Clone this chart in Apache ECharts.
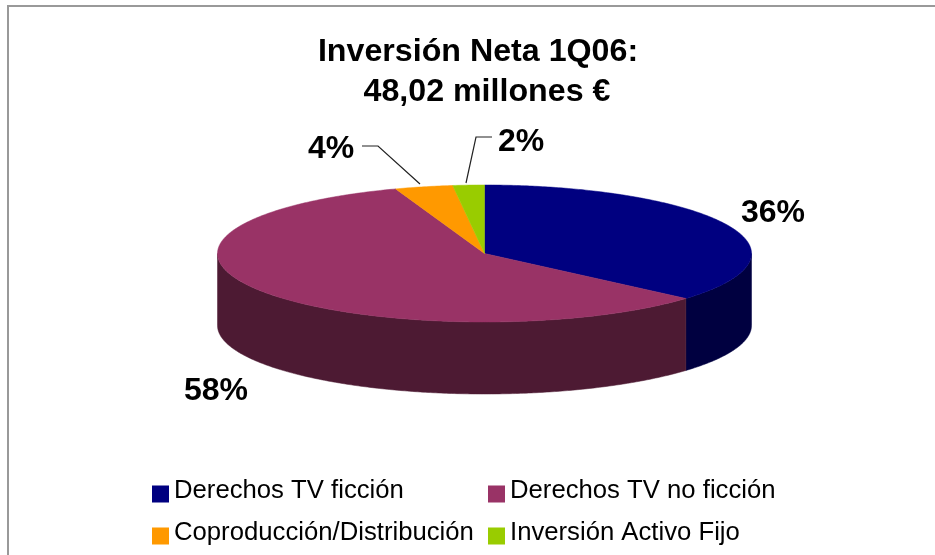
<!DOCTYPE html>
<html>
<head>
<meta charset="utf-8">
<title>Inversión Neta 1Q06</title>
<script src="https://cdn.jsdelivr.net/npm/echarts@6/dist/echarts.min.js"></script>
<style>
html, body { margin: 0; padding: 0; background: #fff; }
#chart { width: 935px; height: 555px; }
</style>
</head>
<body>
<div id="chart"></div>
<script>
var categorias = ['Derechos TV ficción', 'Derechos TV no ficción', 'Coproducción/Distribución', 'Inversión Activo Fijo'];
var valores = [36.4, 58.2, 3.5, 1.9];
var colores = ['#000080', '#993366', '#FF9900', '#99CC00'];
var coloresLado = ['#000040', '#4D1A33', '#804D00', '#4D6600'];

// geometria del pastel
var CX = 484.5, CY = 253.5, RX = 267, RY = 68.5, ALTO = 72;
var ETIQUETAS = [[773, 213], [216, 391], [331, 149], [521, 142]];
var GUIAS = [null, null, [[362, 146], [378, 146], [420, 184]], [[492, 137], [476, 137], [466, 183]]];
// cuadro de la leyenda, 3px mas abajo que el centro del texto
var ICONO = 'path://M0,0L0,0ZM0,6L17,6L17,23L0,23Z';

var total = valores.reduce(function (a, v) { return a + v; }, 0);

function punto(t, dy) {
    return [CX + RX * Math.sin(t), CY - RY * Math.cos(t) + (dy || 0)];
}
function arco(a0, a1, dy) {
    var n = Math.max(2, Math.ceil(Math.abs(a1 - a0) / 0.01)), pts = [];
    for (var i = 0; i <= n; i++) {
        pts.push(punto(a0 + (a1 - a0) * i / n, dy));
    }
    return pts;
}
function dibujar(indice) {
    return function () {
        var acum = 0;
        for (var i = 0; i < indice; i++) acum += valores[i];
        var a0 = acum / total * 2 * Math.PI;
        var a1 = (acum + valores[indice]) / total * 2 * Math.PI;
        var hijos = [];
        // lado visible: solo la mitad frontal
        var l0 = Math.max(a0, Math.PI / 2), l1 = Math.min(a1, Math.PI * 1.5);
        if (l1 > l0) {
            var borde = arco(l0, l1, 0).concat(arco(l1, l0, ALTO));
            hijos.push({
                type: 'polygon',
                shape: { points: borde },
                style: { fill: coloresLado[indice], stroke: coloresLado[indice], lineWidth: 0.5 }
            });
        }
        hijos.push({
            type: 'polygon',
            shape: { points: [[CX, CY]].concat(arco(a0, a1, 0)) },
            style: { fill: colores[indice], stroke: colores[indice], lineWidth: 0.5 }
        });
        if (GUIAS[indice]) {
            hijos.push({
                type: 'polyline',
                shape: { points: GUIAS[indice] },
                style: { fill: null, stroke: '#222', lineWidth: 1.2 }
            });
        }
        hijos.push({
            type: 'text',
            x: ETIQUETAS[indice][0],
            y: ETIQUETAS[indice][1],
            style: {
                text: Math.round(valores[indice]) + '%',
                fill: '#000',
                font: 'bold 32px "Liberation Sans", Arial, sans-serif',
                textAlign: 'center',
                textVerticalAlign: 'middle'
            }
        });
        return { type: 'group', children: hijos };
    };
}

var chart = echarts.init(document.getElementById('chart'));
var letraLeyenda = {
    fontFamily: '"Liberation Sans", Arial, sans-serif',
    fontSize: 25.7,
    color: '#000'
};
chart.setOption({
    animation: false,
    backgroundColor: '#fff',
    title: {
        text: 'Inversión Neta 1Q06:\n  48,02 millones €',
        left: 473,
        top: 27,
        textAlign: 'center',
        textStyle: {
            fontFamily: '"Liberation Sans", Arial, sans-serif',
            fontSize: 32.2,
            fontWeight: 'bold',
            color: '#000',
            lineHeight: 40
        }
    },
    legend: [{
        data: [categorias[0], categorias[2]],
        orient: 'vertical',
        left: 147,
        top: 473,
        itemWidth: 17,
        itemHeight: 23,
        itemGap: 16,
        icon: ICONO,
        selectedMode: false,
        textStyle: letraLeyenda
    }, {
        data: [categorias[1], categorias[3]],
        orient: 'vertical',
        left: 483,
        top: 473,
        itemWidth: 17,
        itemHeight: 23,
        itemGap: 16,
        icon: ICONO,
        selectedMode: false,
        textStyle: letraLeyenda
    }],
    graphic: [{
        type: 'polyline',
        shape: { points: [[8, 555], [8, 6], [935, 6]] },
        style: { fill: null, stroke: '#999', lineWidth: 2 },
        silent: true
    }],
    series: categorias.map(function (nombre, i) {
        return {
            type: 'custom',
            name: nombre,
            coordinateSystem: 'none',
            silent: true,
            itemStyle: { color: colores[i] },
            renderItem: dibujar(i),
            data: [[valores[i]]]
        };
    })
});
</script>
</body>
</html>
